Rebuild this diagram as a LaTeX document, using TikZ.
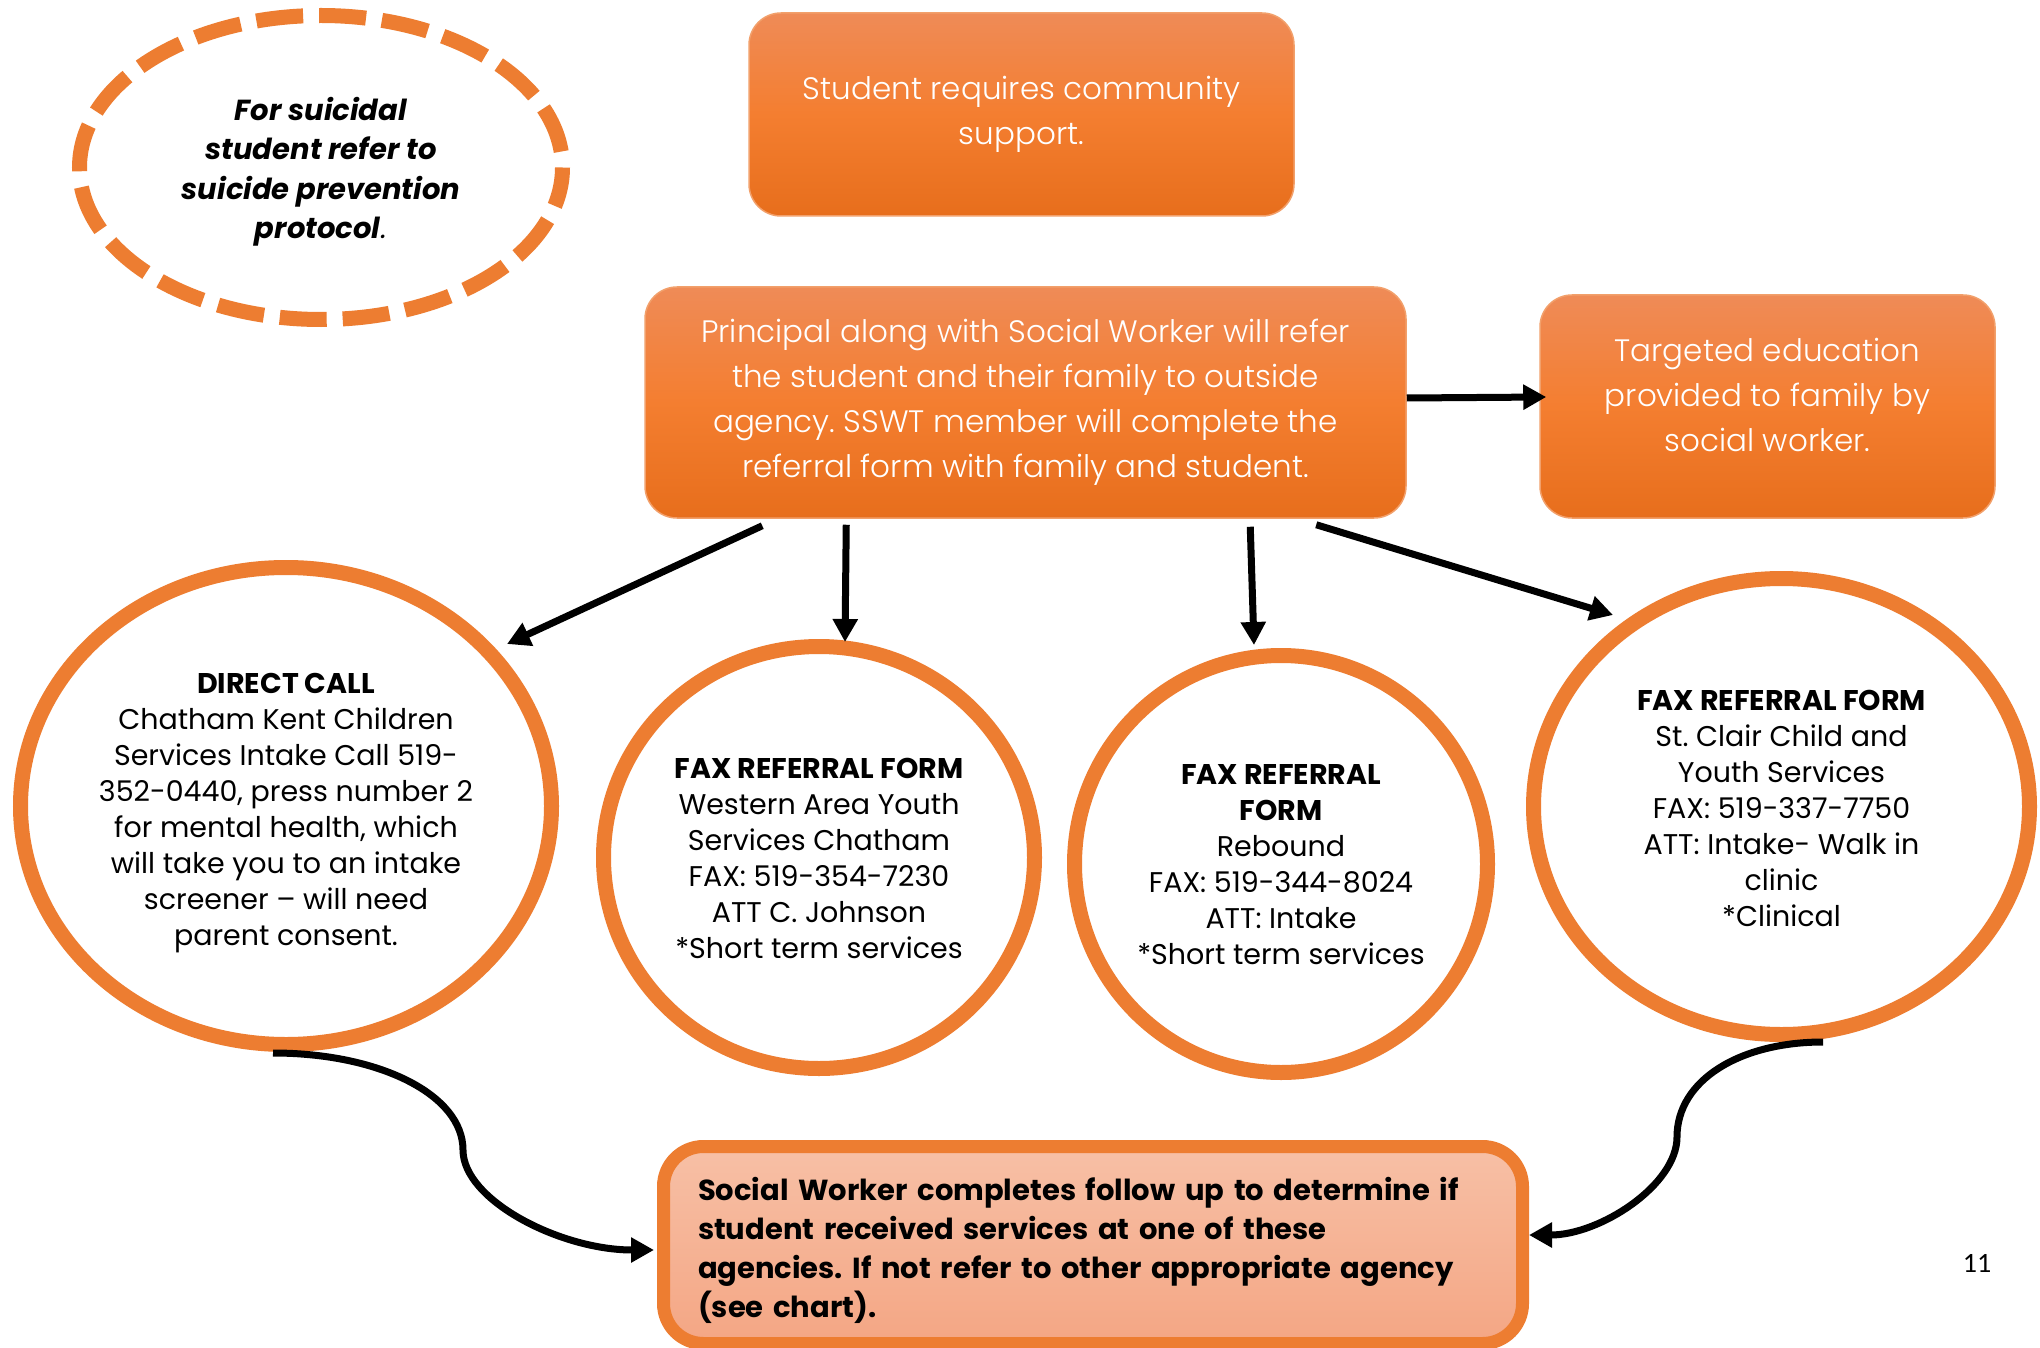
\documentclass[tikz,border=0pt]{standalone}
\usepackage{fontspec}
\setmainfont{Poppins}
\newfontfamily\lightfont{Poppins Light}
\newfontfamily\pnfont{Carlito}
\usetikzlibrary{shapes.geometric,arrows.meta,calc}
\definecolor{orA}{HTML}{ED7D31}
\definecolor{boxTop}{HTML}{EF8B57}
\definecolor{boxMid}{HTML}{F47E30}
\definecolor{boxBot}{HTML}{E76E1C}
\definecolor{boxEdge}{HTML}{F2A06B}
\definecolor{botTop}{HTML}{F7C0A6}
\definecolor{botBot}{HTML}{F4A684}
\frenchspacing
\begin{document}
\begin{tikzpicture}[x=1pt,y=-1pt,
  obox/.style={rectangle, rounded corners=32pt, top color=boxTop, bottom color=boxBot, middle color=boxMid, draw=boxEdge, line width=1.5pt, inner sep=0pt, text=white, align=center, font=\lightfont\fontsize{31}{45}\selectfont},
  ring/.style={ellipse, draw=orA, line width=15pt, fill=white, inner sep=0pt},
  ringtext/.style={align=center, inner sep=0pt, font=\fontsize{28.5}{36}\selectfont},
  arr/.style={line width=7pt, -{Triangle[length=23pt,width=24pt]}},
]
\fill[white] (0,0) rectangle (2040,1348);
\useasboundingbox (0,0) rectangle (2040,1348);

% dashed ellipse
\node[ellipse, draw=orA, line width=15pt, dash pattern=on 47pt off 16pt, dash phase=47pt, inner sep=0pt, minimum width=483pt, minimum height=304pt] (susp) at (321,167.5) {};
\node[align=center, inner sep=0pt, font=\fontsize{29}{39.5}\selectfont] (suspt) at ($(susp.center)+(0,4)$)
  {\textbf{\textit{For suicidal}}\\\textbf{\textit{student refer to}}\\\textbf{\textit{suicide prevention}}\\\textbf{\textit{protocol}}\textit{.}};

% orange boxes
\node[obox, minimum width=545pt, minimum height=203pt] (b1) at (1021.5,114.5)
  {Student requires community\\support.};
\node[obox, minimum width=761pt, minimum height=231pt] (b2) at (1025.5,402.5)
  {Principal along with Social Worker will refer\\the student and their family to outside\\agency. SSWT member will complete the\\referral form with family and student.};
\node[obox, minimum width=455pt, minimum height=223pt] (b3) at (1767.5,406.5) {};
\node[align=center, inner sep=0pt, text=white, font=\lightfont\fontsize{31}{45}\selectfont] (b3t) at ($(b3.center)+(0,-12)$)
  {Targeted education\\provided to family by\\social worker.};

% rings
\node[ring, minimum width=531pt, minimum height=477pt] (c1) at (286,806) {};
\node[ringtext] (c1t) at ($(c1.center)+(0,7)$)
  {\textbf{DIRECT CALL}\\Chatham Kent Children\\Services Intake Call 519-\\352-0440, press number 2\\for mental health, which\\will take you to an intake\\screener – will need\\parent consent.};
\node[ring, minimum width=431pt, minimum height=422pt] (c2) at (819,857.5) {};
\node[ringtext] (c2t) at ($(c2.center)+(0,1)$)
  {\textbf{FAX REFERRAL FORM}\\Western Area Youth\\Services Chatham\\FAX: 519-354-7230\\ATT C. Johnson\\*Short term services};
\node[ring, minimum width=413pt, minimum height=417pt] (c3) at (1281,864) {};
\node[ringtext] (c3t) at ($(c3.center)+(0,1)$)
  {\textbf{FAX REFERRAL}\\\textbf{FORM}\\Rebound\\FAX: 519-344-8024\\ATT: Intake\\*Short term services};
\node[ring, minimum width=496pt, minimum height=456pt] (c4) at (1781.5,806.5) {};
\node[ringtext] (c4t) at ($(c4.center)+(0,2)$)
  {\textbf{FAX REFERRAL FORM}\\St. Clair Child and\\Youth Services\\FAX: 519-337-7750\\ATT: Intake- Walk in\\clinic\\*Clinical};

% bottom box
\node[rectangle, rounded corners=40pt, top color=botTop, bottom color=botBot, draw=orA, line width=13pt, minimum width=859pt, minimum height=197pt, inner sep=0pt] (bot) at (1093,1245) {};
\node[align=left, text width=790pt, inner sep=0pt, font=\bfseries\fontsize{29}{39}\selectfont] (bott) at ($(bot.center)+(0,5)$)
  {Social Worker completes follow up to determine if\\student received services at one of these\\agencies. If not refer to other appropriate agency\\(see chart).};

% page number
\node[font=\pnfont\fontsize{28}{30}\selectfont, inner sep=0pt] (pn) at (1977,1263) {11};

% arrows
\draw[arr] ($(b2.east)+(0,-4.5)$) -- ($(b3.west)+(7,-9.5)$);
\draw[arr] ($(b2.south west)+(118,7)$) -- ($(c1.center)+(221,-162)$);
\draw[arr] ($(b2.south west)+(202,6)$) -- ($(c2.center)+(26,-215.5)$);
\draw[arr] ($(b2.south west)+(606,8)$) -- ($(c3.center)+(-27,-219)$);
\draw[arr] ($(b2.south west)+(672,6)$) -- ($(c4.center)+(-168.5,-191.5)$);

% curved arrows
\coordinate (lmid) at (463,1150);
\coordinate (rmid) at (1677,1137);
\draw[arr] ($(c1.center)+(-13,247)$) .. controls (380,1053) and (463,1095) .. (lmid)
  .. controls (463,1200) and (560,1250) .. ($(bot.center)+(-439,5)$);
\draw[arr] ($(c4.center)+(41.5,235.5)$) .. controls (1740,1042) and (1677,1080) .. (rmid)
  .. controls (1677,1185) and (1600,1235) .. ($(bot.center)+(436,-10)$);
\end{tikzpicture}
\end{document}
